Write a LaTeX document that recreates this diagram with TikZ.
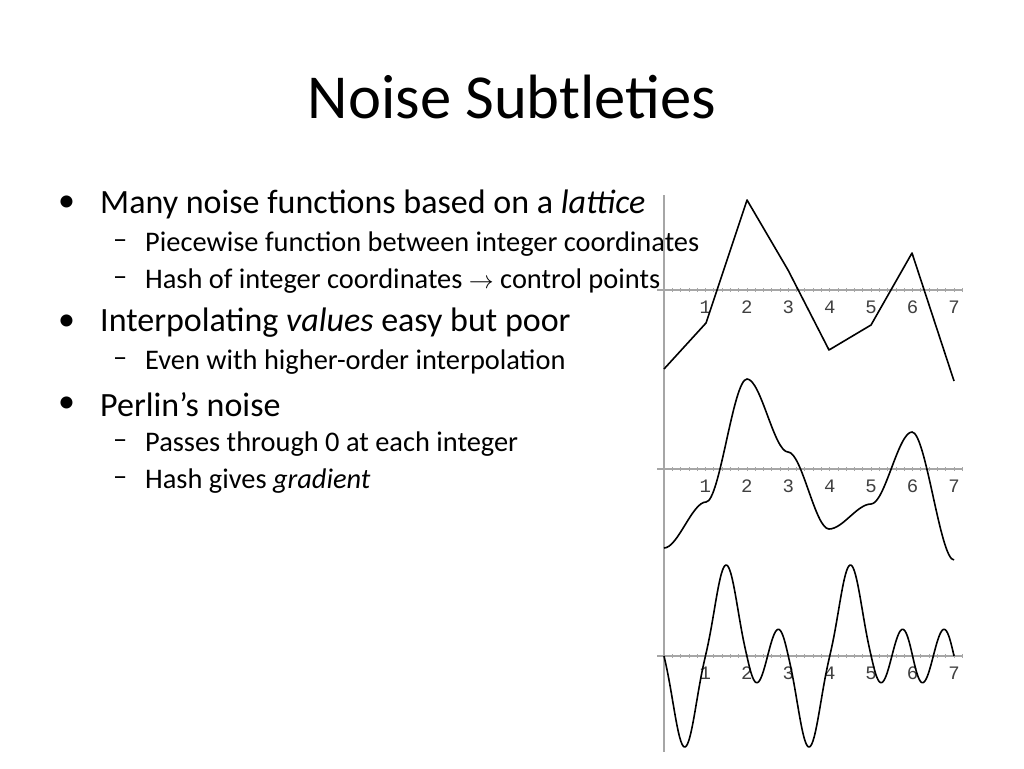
\documentclass[tikz,border=0pt]{standalone}
\usepackage{fontspec}
\setmainfont{Carlito}
\setmonofont{Liberation Mono}
\begin{document}
\begin{tikzpicture}[x=1pt,y=-1pt,
  bul/.style={anchor=west,font=\fontsize{34}{40}\selectfont,inner sep=0},
  sub/.style={anchor=west,font=\fontsize{28.4}{34}\selectfont,inner sep=0},
  curve/.style={line width=1.6pt,black},
  axis/.style={line width=1.2pt,gray!70},
  lbl/.style={font=\ttfamily\fontsize{19}{20}\selectfont,text=black!75,inner sep=0}]
\useasboundingbox (0,0) rectangle (1024,768);
\node[font=\fontsize{62.6}{70}\selectfont] (title) at (512,97) {Noise Subtleties};
\node[bul] (b1d) at (58,204) {•};
\node[bul] (b1) at (100,204) {Many noise functions based on a \textit{lattice}};
\node[sub] (s1d) at (113,244) {–};
\node[sub] (s1) at (145,244) {Piecewise function between integer coordinates};
\node[sub] (s2d) at (113,281) {–};
\node[sub] (s2) at (145,281) {Hash of integer coordinates $\rightarrow$ control points};
\node[bul] (b2d) at (58,323) {•};
\node[bul] (b2) at (100,323) {Interpolating \textit{values} easy but poor};
\node[sub] (s3d) at (113,362) {–};
\node[sub] (s3) at (145,362) {Even with higher-order interpolation};
\node[bul] (b3d) at (58,405) {•};
\node[bul] (b3) at (100,405) {Perlin’s noise};
\node[sub] (s4d) at (113,444) {–};
\node[sub] (s4) at (145,444) {Passes through 0 at each integer};
\node[sub] (s5d) at (113,481) {–};
\node[sub] (s5) at (145,481) {Hash gives \textit{gradient}};
% axes
\draw[axis] (664,195) -- (664,752);
\foreach \ay in {290,469,656}{
  \draw[axis] (657,\ay) -- (962,\ay);
  \foreach \k in {1,...,36} \draw[gray!70,line width=0.6pt] ({664+\k*8.28},\ay-2) -- ({664+\k*8.28},\ay+2);
  \foreach \i in {1,...,7} \node[lbl] at ({664+\i*41.43},\ay+17) {\i};
}
% plot 1
\draw[curve,line join=round] (664,369) -- (706,323) -- (747,200) -- (788,270) -- (829,350) -- (871,325) -- (912,253) -- (954,381);
% plot 2
\def\u{13.81}
\draw[curve] (664,548)
  .. controls (677.8,548) and (692.2,502) .. (706,502)
  .. controls (719.8,502) and (733.2,379) .. (747,379)
  .. controls (760.8,379) and (774.2,452) .. (788,452)
  .. controls (801.8,452) and (815.2,529) .. (829,529)
  .. controls (842.8,529) and (857.2,504) .. (871,504)
  .. controls (884.8,504) and (898.2,432) .. (912,432)
  .. controls (925.8,432) and (940.2,560) .. (954,560);
% plot 3: Perlin
\foreach \i/\a/\b in {0/-1/1,1/1/-1,2/-1/-1,3/-1/1,4/1/-1,5/-1/-1,6/-1/-1}{
  \draw[curve] plot[domain=0:1,samples=40,smooth]
   ({664+(\i+\x)*41.43},
    {656-182*((1-(6*\x^5-15*\x^4+10*\x^3))*\a*\x+(6*\x^5-15*\x^4+10*\x^3)*\b*(\x-1))});
}
\end{tikzpicture}
\end{document}
